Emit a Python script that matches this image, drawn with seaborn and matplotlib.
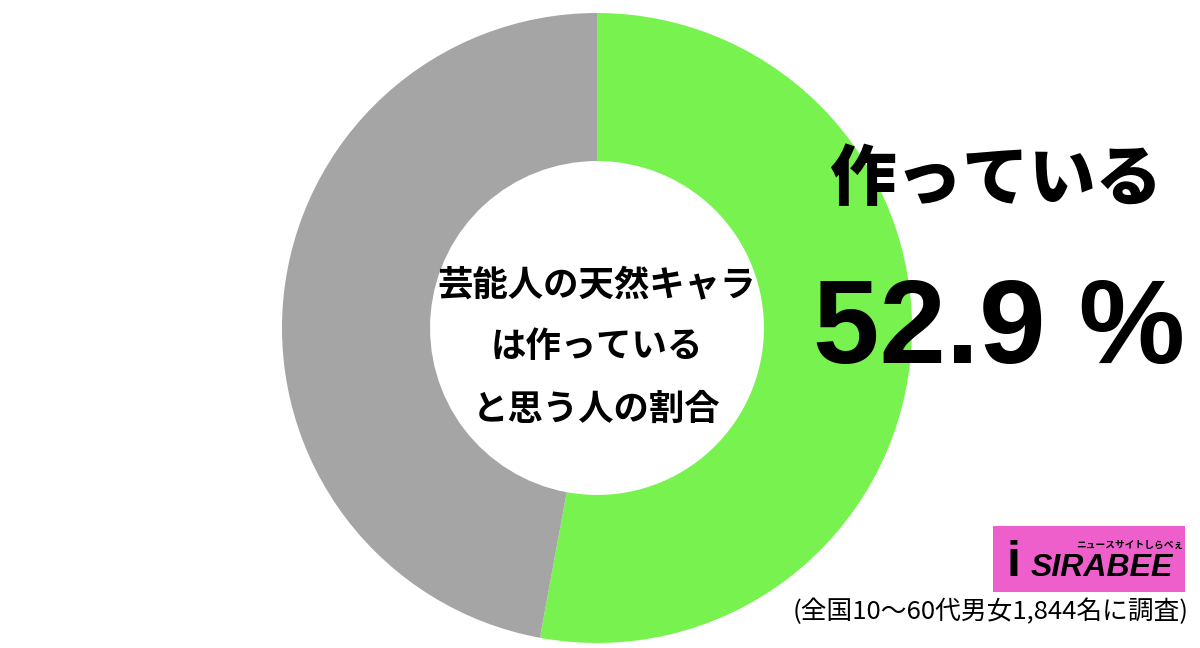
import matplotlib
matplotlib.use("Agg")
import matplotlib.pyplot as plt
import seaborn as sns
from matplotlib.patches import Rectangle

sns.set_theme(style="white")
plt.rcParams["font.family"] = ["Noto Sans CJK JP", "DejaVu Sans"]

# data
labels = ["作っている", "その他"]
shares = [52.9, 47.1]
colors = ["#77F24F", "#A5A5A5"]

center_title = "芸能人の天然キャラ\nは作っている\nと思う人の割合"
answer_label = "作っている"
answer_value = "52.9 %"
footnote = "(全国10〜60代男女1,844名に調査)"

fig = plt.figure(figsize=(12, 6.48), dpi=100)
fig.patch.set_facecolor("white")

# donut
ax = fig.add_axes([282 / 1200, 5 / 648, 630 / 1200, 630 / 648])
ax.pie(
    shares,
    colors=colors,
    startangle=90,
    counterclock=False,
    radius=1.0,
    wedgeprops=dict(width=0.47, edgecolor="none"),
)
ax.set_xlim(-1, 1)
ax.set_ylim(-1, 1)
ax.set_aspect("equal")
ax.axis("off")

ax.text(0, -0.06, center_title, ha="center", va="center",
        fontsize=25.5, fontweight="bold", color="black", linespacing=1.98)

# big labels on the right
fig.text(996 / 1200, 1 - 180 / 648, answer_label, ha="center", va="center",
         fontsize=48, fontweight="black", color="black")
fig.text(999 / 1200, 1 - 333 / 648, answer_value, ha="center", va="center",
         fontsize=86, fontweight="bold", color="black",
         family=["Liberation Sans", "DejaVu Sans"])

# logo
fig.patches.append(Rectangle((993 / 1200, 1 - 592 / 648), 192 / 1200, 66 / 648,
                             transform=fig.transFigure, facecolor="#EE5FCB",
                             edgecolor="none"))
fig.text(1006 / 1200, 1 - 563 / 648, "i", ha="left", va="center",
         fontsize=36, fontweight="bold", color="black",
         family=["Liberation Sans", "DejaVu Sans"])
fig.text(1031 / 1200, 1 - 568 / 648, "SIRABEE", ha="left", va="center",
         fontsize=23, fontweight="bold", fontstyle="italic", color="black",
         family=["Liberation Sans", "DejaVu Sans"])
fig.text(1076 / 1200, 1 - 545 / 648, "ニュースサイトしらべぇ", ha="left", va="center",
         fontsize=7, fontweight="bold", color="black")

# footnote
fig.text(1189 / 1200, 1 - 612 / 648, footnote, ha="right", va="center",
         fontsize=18.5, color="black")

fig.savefig("out.png", dpi=100, facecolor="white")
